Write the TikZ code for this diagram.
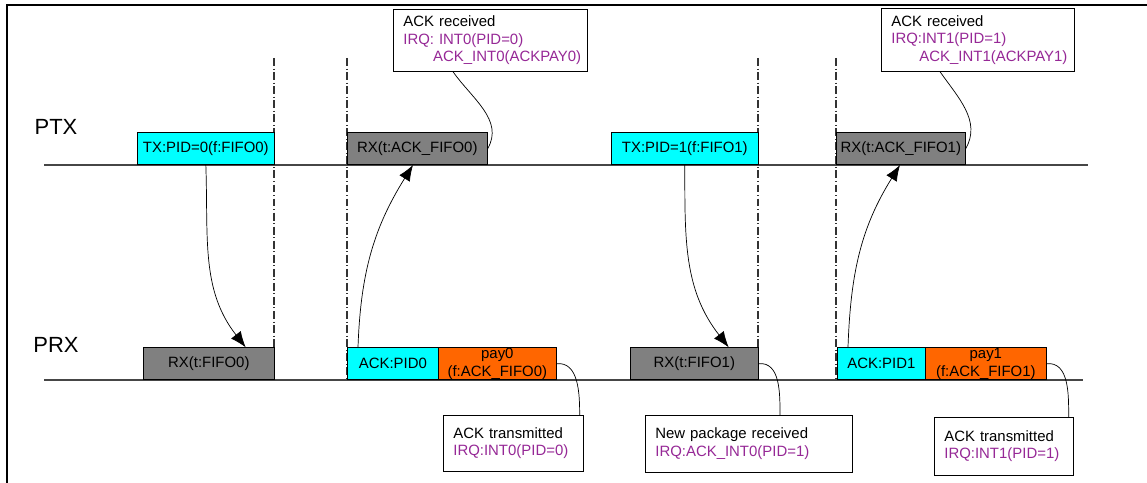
\documentclass[tikz,border=0pt]{standalone}
\usepackage{fontspec}
\setmainfont{Liberation Sans}
\usepackage{tikz}
\usetikzlibrary{arrows.meta}
\usetikzlibrary{calc}

\definecolor{irqpurple}{RGB}{150,40,150}
\definecolor{slotcyan}{RGB}{0,255,255}
\definecolor{slotgray}{RGB}{128,128,128}
\definecolor{slotorange}{RGB}{255,102,0}
\definecolor{axisgray}{RGB}{70,70,70}

\tikzset{
  slot/.style={draw=black, thin, anchor=south west, inner sep=0pt, minimum height=0.64cm, align=center, font=\fontsize{8.5}{10}\selectfont},
  note/.style={draw=black, thin, fill=white, anchor=north west, inner xsep=0.2cm, inner ysep=0pt, align=left, font=\fontsize{8.5}{10}\selectfont},
  hop/.style={-{Latex[length=9pt,width=7pt]}, thin},
  tag/.style={thin},
  phase/.style={black!80, line width=0.6pt, dash pattern=on 4.5pt off 1.5pt on 0.5pt off 1.5pt},
  role/.style={font=\fontsize{12.5}{14}\selectfont}
}

\begin{document}
\begin{tikzpicture}[x=0.02cm,y=-0.02cm]
\useasboundingbox (0,0) rectangle (1147,483);
\draw[black,line width=1.1pt] (7,483) -- (7,5) -- (1147,5);

\node[role] (ptx) at (56,127) {PTX};
\node[role] (prx) at (56,345) {PRX};

\foreach \x in {274,347,758,836}
  \draw[phase] (\x,58) -- (\x,380);

\draw[axisgray,line width=0.9pt] (44,165) -- (1088,165);
\draw[axisgray,line width=0.9pt] (44,380) -- (1083,380);

\node[slot,fill=slotcyan,minimum width=2.74cm] (txa) at (137,165) {TX:PID=0(f:FIFO0)};
\node[slot,fill=slotgray,minimum width=2.80cm] (rxacka) at (347,165) {RX(t:ACK\_FIFO0)};
\node[slot,fill=slotcyan,minimum width=2.94cm] (txb) at (611,165) {TX:PID=1(f:FIFO1)};
\node[slot,fill=slotgray,minimum width=2.58cm] (rxackb) at (836,165) {RX(t:ACK\_FIFO1)};

\node[slot,fill=slotgray,minimum width=2.62cm] (rxa) at (143,380) {RX(t:FIFO0)};
\node[slot,fill=slotcyan,minimum width=1.82cm] (acka) at (347,380) {ACK:PID0};
\node[slot,fill=slotorange,minimum width=2.36cm] (paya) at (438,380) {pay0\\(f:ACK\_FIFO0)};
\node[slot,fill=slotgray,minimum width=2.56cm] (rxb) at (630,380) {RX(t:FIFO1)};
\node[slot,fill=slotcyan,minimum width=1.76cm] (ackb) at (837,380) {ACK:PID1};
\node[slot,fill=slotorange,minimum width=2.42cm] (payb) at (925,380) {pay1\\(f:ACK\_FIFO1)};

\node[note,text width=3.48cm,minimum height=1.24cm] (ntoa) at (393,9) {ACK received\\\textcolor{irqpurple}{IRQ: INT0(PID=0)}\\\hspace*{17pt}\textcolor{irqpurple}{ACK\_INT0(ACKPAY0)}};
\node[note,text width=3.46cm,minimum height=1.26cm] (ntob) at (881,8) {ACK received\\\textcolor{irqpurple}{IRQ:INT1(PID=1)}\\\hspace*{16pt}\textcolor{irqpurple}{ACK\_INT1(ACKPAY1)}};
\node[note,text width=2.40cm,minimum height=1.12cm] (ntra) at (443,415) {ACK transmitted\\\textcolor{irqpurple}{IRQ:INT0(PID=0)}};
\node[note,text width=3.74cm,minimum height=1.14cm] (ntrb) at (645,415) {New package received\\\textcolor{irqpurple}{IRQ:ACK\_INT0(PID=1)}};
\node[note,text width=2.38cm,minimum height=1.16cm] (ntrc) at (934,417) {ACK transmitted\\\textcolor{irqpurple}{IRQ:INT1(PID=1)}};

\draw[hop] (txa.south) to[out=-88,in=128] ($(rxa.north east)+(-29,0)$);
\draw[hop] ($(acka.north west)+(11,0)$) to[out=88,in=-122] ($(rxacka.south west)+(66,0)$);
\draw[hop] (txb.south) to[out=-90,in=128] ($(rxb.north east)+(-30,0)$);
\draw[hop] ($(ackb.north west)+(11,0)$) to[out=88,in=-122] ($(rxackb.south west)+(64,0)$);

\draw[tag] ($(ntoa.south west)+(60,0)$) to[out=-55,in=60] (rxacka.east);
\draw[tag] ($(ntob.south west)+(59,0)$) to[out=-55,in=60] (rxackb.east);
\draw[tag] (paya.east) to[out=5,in=90] ($(ntra.north east)+(-4,0)$);
\draw[tag] (rxb.east) to[out=5,in=90] ($(ntrb.north west)+(135,0)$);
\draw[tag] (payb.east) to[out=5,in=90] ($(ntrc.north east)+(-5,0)$);

\end{tikzpicture}
\end{document}
